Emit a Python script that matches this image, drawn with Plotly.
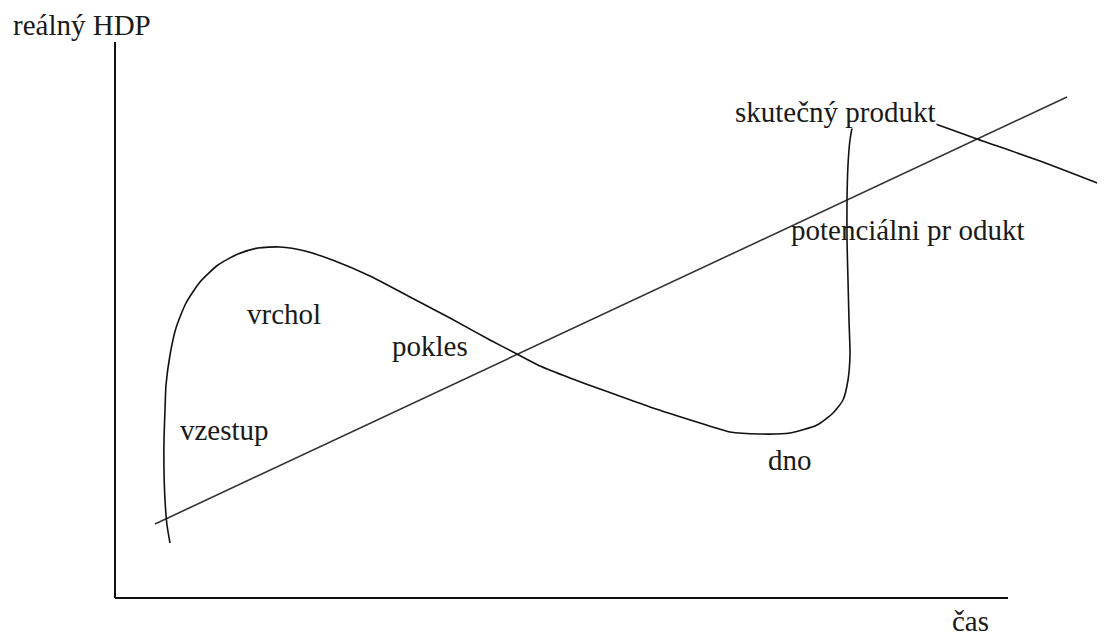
import plotly.graph_objects as go

# diagram units: x = time, y = real GDP (picture space, y up)
cas = [170, 167, 165, 164, 164, 165, 166, 170, 176, 186, 200, 218, 238, 258, 280,
       305, 335, 370, 410, 450, 490, 515, 540, 570, 600, 650, 700, 730, 760, 790,
       817, 833, 843, 848, 850, 849, 848, 847, 847, 848, 850, 853, 858, 870, 890,
       910, 930, 977, 1040, 1105]
hdp_px = [543, 525, 500, 470, 440, 410, 385, 355, 328, 303, 282, 265, 254, 248, 247,
          251, 261, 276, 297, 318, 340, 353, 366, 378, 389, 407, 423, 432, 434, 433,
          425, 413, 400, 380, 355, 320, 280, 240, 200, 165, 140, 125, 116, 112, 112,
          115, 122, 139, 161, 186]
skutecny = [641 - v for v in hdp_px]

trend_cas = [155, 1067]
potencialni = [641 - 524, 641 - 97]

# labels: text, left x, middle y
labels = [
    ("reálný HDP", 12, 641 - 25),
    ("skutečný produkt", 734, 641 - 112),
    ("potenciálni pr odukt", 790, 641 - 230),
    ("vrchol", 246, 641 - 314),
    ("pokles", 391, 641 - 346),
    ("vzestup", 179, 641 - 430),
    ("dno", 767, 641 - 460),
    ("čas", 951, 641 - 621),
]

fig = go.Figure()

fig.add_trace(go.Scatter(
    x=trend_cas, y=potencialni, mode="lines",
    line=dict(color="#333333", width=1.6),
    name="potenciální produkt", hoverinfo="skip",
))
fig.add_trace(go.Scatter(
    x=cas, y=skutecny, mode="lines",
    line=dict(color="#111111", width=1.6, shape="spline", smoothing=0.6),
    name="skutečný produkt", hoverinfo="skip",
))

# axes drawn as plain lines
fig.add_shape(type="line", x0=115, x1=115, y0=641 - 42, y1=641 - 598,
              line=dict(color="#111111", width=2))
fig.add_shape(type="line", x0=115, x1=1008, y0=641 - 598, y1=641 - 598,
              line=dict(color="#111111", width=2))

for text, lx, ly in labels:
    fig.add_annotation(
        x=lx, y=ly, text=text, showarrow=False,
        xanchor="left", yanchor="middle",
        font=dict(family="Liberation Serif", size=29, color="#1a1a1a"),
        bgcolor="white" if text == "skutečný produkt" else None,
        borderpad=0,
    )

# page body has an 8px margin, so the figure is a bit smaller and the ranges shifted
fig.update_layout(
    width=1097, height=633,
    margin=dict(l=0, r=0, t=0, b=0),
    paper_bgcolor="white", plot_bgcolor="white",
    showlegend=False,
    xaxis=dict(range=[8, 1105], visible=False, fixedrange=True),
    yaxis=dict(range=[0, 633], visible=False, fixedrange=True),
)

fig.write_html("out.html")
